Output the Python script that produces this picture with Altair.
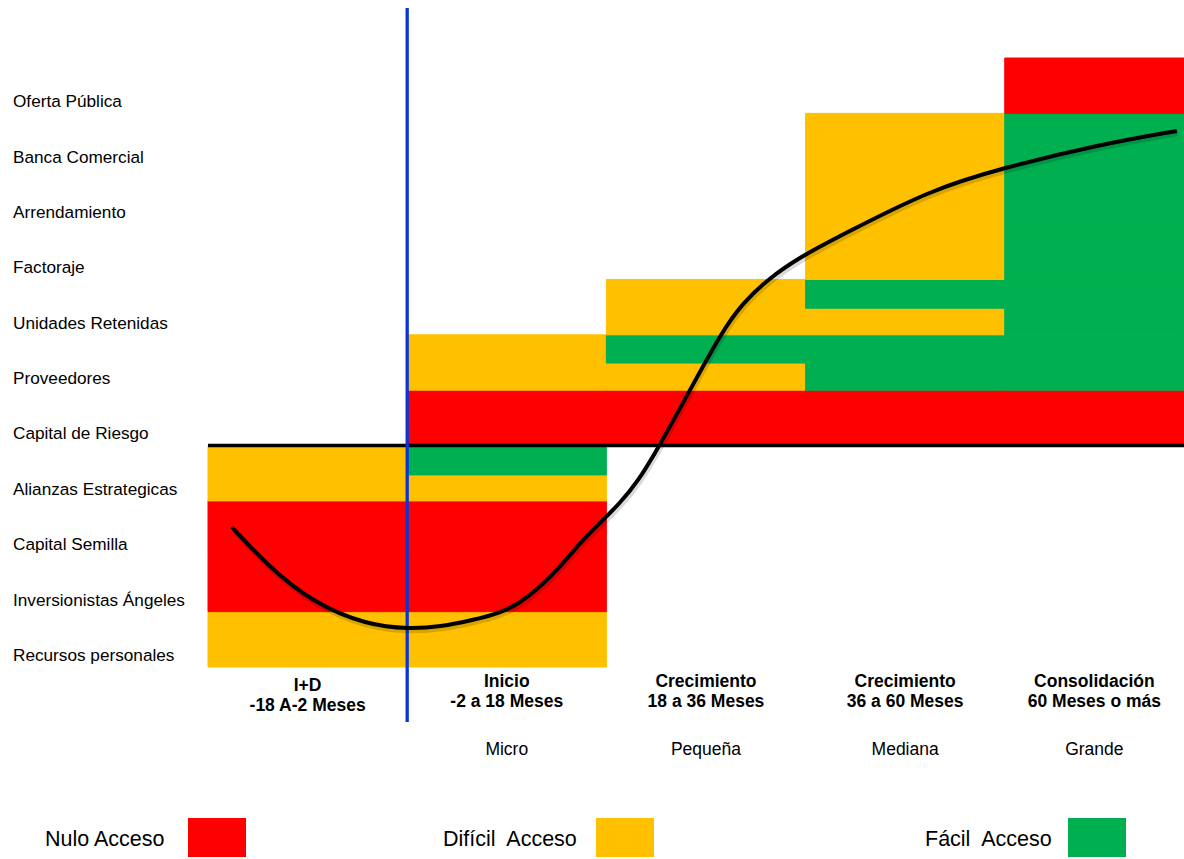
import altair as alt
import pandas as pd

# Financing sources, listed from the bottom row upwards
sources = [
    "Recursos personales", "Inversionistas Ángeles", "Capital Semilla",
    "Alianzas Estrategicas", "Capital de Riesgo", "Proveedores",
    "Unidades Retenidas", "Factoraje", "Arrendamiento", "Banca Comercial",
    "Oferta Pública",
]

# Company life-cycle stages along the horizontal axis
stage_names = ["I+D", "Inicio", "Crecimiento", "Crecimiento", "Consolidación"]
stage_periods = ["-18 A-2 Meses", "-2 a 18 Meses", "18 a 36 Meses",
                 "36 a 60 Meses", "60 Meses o más"]
company_sizes = ["", "Micro", "Pequeña", "Mediana", "Grande"]
stage_edges = [0, 1, 2, 3, 4, 4.9]

# Access level per (stage, row span); spans are in row units
cell_stage = [0, 0, 0, 0,
              1, 1, 1, 1, 1, 1, 1,
              2, 2, 2, 2,
              3, 3, 3, 3, 3, 3, 3,
              4, 4, 4, 4, 4, 4, 4]
cell_low = [0, 1, 2, 3,
            0, 1, 2, 3, 3.47, 4, 5,
            4, 5, 5.49, 6,
            4, 5, 6, 6.48, 7, 8, 9,
            4, 5, 6, 7, 8, 9, 10]
cell_high = [1, 2, 3, 4,
             1, 2, 3, 3.47, 3.98, 5, 6,
             5, 5.49, 6, 7,
             5, 6, 6.48, 7, 8, 9, 10,
             5, 6, 7, 8, 9, 10, 11]
cell_access = ["Difícil", "Nulo", "Nulo", "Difícil",
               "Difícil", "Nulo", "Nulo", "Difícil", "Fácil", "Nulo", "Difícil",
               "Nulo", "Difícil", "Fácil", "Difícil",
               "Nulo", "Fácil", "Difícil", "Fácil", "Difícil", "Difícil", "Difícil",
               "Nulo", "Fácil", "Fácil", "Fácil", "Fácil", "Fácil", "Nulo"]

# Typical growth path of the firm (stage units, row units)
curve_x = [0.120, 0.296, 0.527, 0.798, 1.014, 1.165, 1.330, 1.466, 1.566, 1.667,
           1.767, 1.867, 1.968, 2.068, 2.154, 2.269, 2.420, 2.585, 2.686, 2.806,
           2.972, 3.173, 3.624, 3.991, 4.463, 4.864]
curve_y = [2.529, 1.842, 1.156, 0.759, 0.686, 0.728, 0.849, 0.975, 1.156, 1.445,
           1.806, 2.240, 2.601, 2.962, 3.324, 4.010, 5.004, 6.087, 6.575, 6.991,
           7.406, 7.785, 8.616, 9.014, 9.429, 9.682]

access_levels = ["Nulo", "Difícil", "Fácil"]
access_colors = ["#FF0000", "#FFC000", "#00B050"]
legend_labels = ["Nulo Acceso", "Difícil\u00a0 Acceso", "Fácil\u00a0 Acceso"]

W, H = 976, 609
FONT = "Liberation Sans"

xs = alt.Scale(domain=[0, 4.9], nice=False, zero=False)
ys = alt.Scale(domain=[0, 11], nice=False, zero=False)
access_scale = alt.Scale(domain=access_levels, range=access_colors)
color = alt.Color("access:N", scale=access_scale, legend=None)

cells = pd.DataFrame({
    "x0": [stage_edges[s] for s in cell_stage],
    "x1": [stage_edges[s + 1] for s in cell_stage],
    "low": cell_low, "high": cell_high, "access": cell_access,
})
# a thin stroke in the fill colour hides seams between neighbouring cells
rects = alt.Chart(cells).mark_rect(strokeWidth=1).encode(
    x=alt.X("x0:Q", scale=xs, axis=None), x2="x1",
    y=alt.Y("low:Q", scale=ys, axis=None), y2="high",
    color=color,
    stroke=alt.Stroke("access:N", scale=access_scale, legend=None),
)

base_line = alt.Chart(pd.DataFrame({"x0": [0], "x1": [4.9], "y": [4]})).mark_rule(
    color="black", strokeWidth=3.5
).encode(x=alt.X("x0:Q", scale=xs), x2="x1", y=alt.Y("y:Q", scale=ys))

divider = alt.Chart(pd.DataFrame({"x": [1]})).mark_rule(
    color="#0a35d6", strokeWidth=3.3
).encode(x=alt.X("x:Q", scale=xs), y=alt.value(-50), y2=alt.value(664))

curve_df = pd.DataFrame({"x": curve_x, "y": curve_y})
shadow = alt.Chart(curve_df).transform_calculate(
    xs="datum.x + 0.006", ys="datum.y - 0.05"
).mark_line(
    color="black", strokeWidth=5, opacity=0.15, interpolate="basis"
).encode(x=alt.X("xs:Q", scale=xs), y=alt.Y("ys:Q", scale=ys))
curve = alt.Chart(curve_df).mark_line(
    color="black", strokeWidth=4, interpolate="basis"
).encode(x=alt.X("x:Q", scale=xs), y=alt.Y("y:Q", scale=ys))

row_df = pd.DataFrame({"label": sources, "pos": [i + 0.2 for i in range(len(sources))]})
row_labels = alt.Chart(row_df).mark_text(
    align="left", baseline="middle", fontSize=17.2, font=FONT, color="black"
).encode(x=alt.value(-195), y=alt.Y("pos:Q", scale=ys), text="label:N")

stage_df = pd.DataFrame({
    "stage": list(range(5)),
    "center": [(stage_edges[i] + stage_edges[i + 1]) / 2 for i in range(5)],
    "name": stage_names, "period": stage_periods, "size": company_sizes,
})


def stage_text(field, y, bold, keep_first):
    flt = "datum.stage == 0" if keep_first else "datum.stage > 0"
    return alt.Chart(stage_df).transform_filter(flt).mark_text(
        align="center", baseline="middle", fontSize=17.5, font=FONT,
        fontWeight="bold" if bold else "normal", color="black",
    ).encode(x=alt.X("center:Q", scale=xs), y=alt.value(y), text=f"{field}:N")


stage_layers = [
    stage_text("name", 628, True, True),
    stage_text("period", 648, True, True),
    stage_text("name", 624, True, False),
    stage_text("period", 644, True, False),
    stage_text("size", 692, False, False),
]

legend_df = pd.DataFrame({"access": access_levels, "label": legend_labels})
legend_layers = []
for i, (tx, bx) in enumerate([(-163, -20), (235, 388), (717, 860)]):
    one = alt.Chart(legend_df).transform_filter(f"datum.access == '{access_levels[i]}'")
    legend_layers.append(one.mark_text(
        align="left", baseline="middle", fontSize=21.5, font=FONT, color="black"
    ).encode(x=alt.value(tx), y=alt.value(782), text="label:N"))
    legend_layers.append(one.mark_rect().encode(
        x=alt.value(bx), x2=alt.value(bx + 58), y=alt.value(760), y2=alt.value(799), color=color
    ))

chart = alt.layer(
    rects, base_line, divider, shadow, curve, row_labels, *stage_layers, *legend_layers
).properties(
    width=W, height=H,
    padding={"left": 208, "top": 58, "right": 0, "bottom": 192},
    autosize="none",
).configure_view(stroke=None)

chart.save("out.html", embed_options={"renderer": "svg", "actions": False})
